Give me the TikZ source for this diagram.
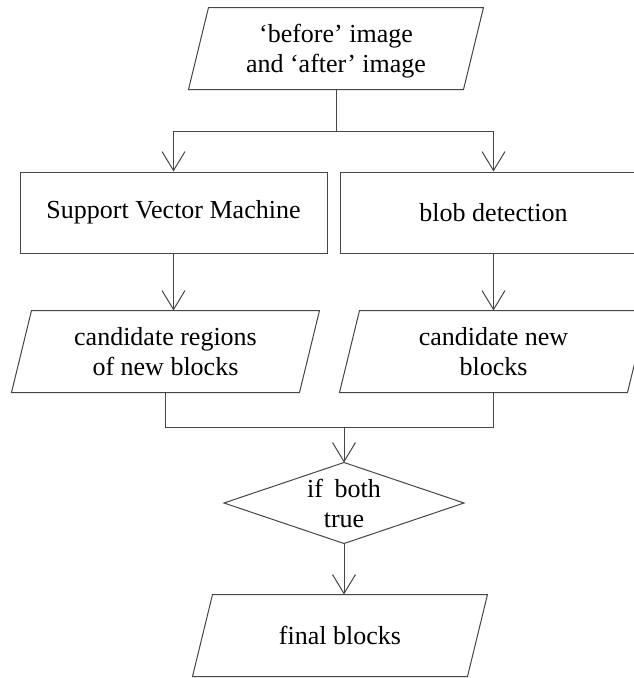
\documentclass[tikz,border=0pt]{standalone}
\usepackage{fontspec}
\setmainfont{Liberation Serif}
\usetikzlibrary{arrows.meta}
\definecolor{lc}{RGB}{70,70,70}
\begin{document}
\begin{tikzpicture}[x=1pt,y=-1pt,line width=1pt,
  lbl/.style={align=center,font=\fontsize{26}{30}\selectfont,inner sep=0pt,text=black},
  box/.style={lbl,draw=lc,minimum width=307pt,minimum height=81pt},
  para/.style={lbl,minimum height=81pt},
  arr/.style={draw=lc,-{Straight Barb[length=19pt,width=23pt]}},
  ln/.style={draw=lc}]
\useasboundingbox (0,0) rectangle (634,678);
\clip (0,0) rectangle (634,678);
\fill[white] (0,0) rectangle (634,678);

\node[para,minimum width=274pt] (top) at (336,48.5) {};
\node[lbl] (toptext) at (336,51.5) {‘before’ image\\and ‘after’ image};
\node[box] (svm) at (173.5,212.5) {Support Vector Machine};
\node[box] (blob) at (493.5,212.5) {blob detection};
\node[para,minimum width=287pt] (cand1) at (165.5,351.5) {candidate regions\\of new blocks};
\node[para,minimum width=287pt] (cand2) at (493.5,351.5) {candidate new\\blocks};
\node[lbl] (dec) at (344,503) {if\hspace{0.45em}both\\true};
\node[para,minimum width=274pt] (fin) at (340,635.5) {final blocks};

\foreach \n in {top,cand1,cand2,fin}
  \draw[ln] ([xshift=10pt]\n.north west) -- ([xshift=10pt]\n.north east)
    -- ([xshift=-10pt]\n.south east) -- ([xshift=-10pt]\n.south west) -- cycle;

\coordinate (dtop) at (344,462.5);
\coordinate (dbot) at (344,543.5);
\coordinate (dl) at (224,503);
\coordinate (dr) at (464,503);
\draw[ln] (dtop) -- (dr) -- (dbot) -- (dl) -- cycle;

\coordinate (split) at (336,131);
\draw[ln] (top.south) -- (split);
\draw[arr] (split) -| (svm.north);
\draw[arr] (split) -| (blob.north);
\draw[arr] (svm.south) -- (svm.south |- cand1.north);
\draw[arr] (blob.south) -- (cand2.north);
\coordinate (merge) at (344,427);
\draw[ln] (cand1.south) |- (merge);
\draw[ln] (cand2.south) |- (merge);
\draw[arr] (merge) -- (dtop);
\draw[arr] (dbot) -- (dbot |- fin.north);
\end{tikzpicture}
\end{document}
